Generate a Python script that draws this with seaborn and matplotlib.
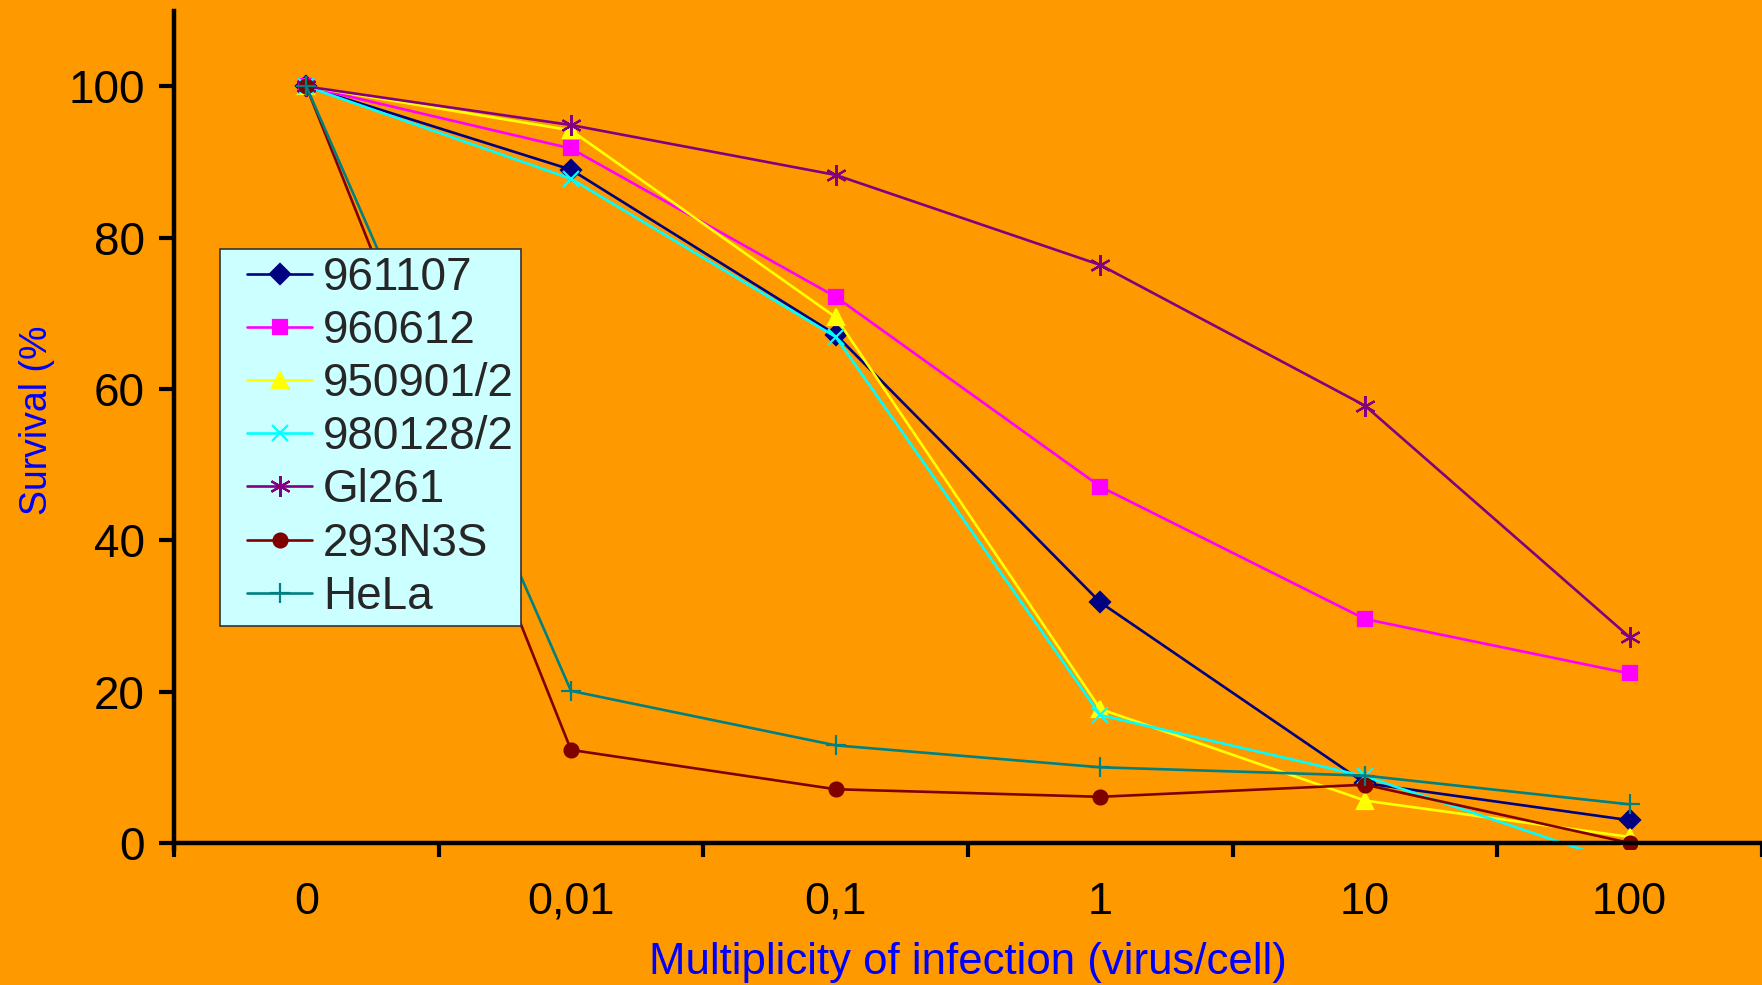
import matplotlib
matplotlib.use("Agg")
import matplotlib.pyplot as plt
from matplotlib.legend_handler import HandlerLine2D
import seaborn as sns
import pandas as pd

# Multiplicity of infection categories (virus/cell)
moi_labels = ["0", "0,01", "0,1", "1", "10", "100"]

# Survival (%) per cell line
s_961107 = [100, 89.0, 67.2, 31.8, 7.9, 3.0]
s_960612 = [100, 91.8, 72.2, 47.1, 29.6, 22.4]
s_950901_2 = [100, 94.2, 69.5, 17.7, 5.6, 0.8]
s_980128_2 = [100, 87.8, 66.9, 16.9, 8.8, -3.0]
s_gl261 = [100, 94.9, 88.3, 76.4, 57.8, 27.2]
s_293n3s = [100, 12.3, 7.1, 6.1, 7.7, 0.0]
s_hela = [100, 20.1, 12.9, 10.0, 8.9, 5.1]

series_names = ["961107", "960612", "950901/2", "980128/2", "Gl261", "293N3S", "HeLa"]
series_values = [s_961107, s_960612, s_950901_2, s_980128_2, s_gl261, s_293n3s, s_hela]

colors = ["#000080", "#FF00FF", "#FFFF00", "#00FFFF", "#800080", "#800000", "#008080"]
markers = ["D", "s", "^", "x", (6, 2, 0), "o", "+"]
marker_sizes = [10, 10, 12, 12, 15, 10, 15]

rows = []
for name, vals in zip(series_names, series_values):
    for i, v in enumerate(vals):
        rows.append({"line": name, "pos": i, "survival": v})
df = pd.DataFrame(rows)

sns.set_theme(style="white")
plt.rcParams["font.family"] = ["Liberation Sans", "DejaVu Sans"]

bg = "#FF9900"
fig = plt.figure(figsize=(17.62, 9.85), dpi=100, facecolor=bg)
ax = fig.add_axes([174 / 1762, 1 - 849 / 985, 1 - 174 / 1762, (849 - 10.8) / 985])
ax.set_facecolor(bg)

sns.lineplot(
    data=df, x="pos", y="survival", hue="line", hue_order=series_names,
    palette=dict(zip(series_names, colors)),
    linewidth=1.9, legend=False, errorbar=None, ax=ax,
)

# Per-series markers (filled and line-art mixed), coloured like their line
lines = ax.get_lines()[:len(series_names)]
for ln, mk, ms in zip(lines, markers, marker_sizes):
    c = ln.get_color()
    ln.set_marker(mk)
    ln.set_markeredgecolor(c)
    ln.set_markerfacecolor(c)
    ln.set_markersize(ms)
    ln.set_markeredgewidth(1.6)

ax.set_xlim(-0.5, 5.5)
ax.set_ylim(-0.8, 110)

for side in ["top", "right"]:
    ax.spines[side].set_visible(False)
ax.spines["bottom"].set_position(("data", 0))
for side in ["left", "bottom"]:
    ax.spines[side].set_color("black")
    ax.spines[side].set_linewidth(3.2)

ax.set_yticks([0, 20, 40, 60, 80, 100])
ax.tick_params(axis="y", which="major", direction="out", length=11, width=3,
               color="black", labelsize=33, labelcolor="black", pad=10, left=True)

ax.set_xticks(range(len(moi_labels)))
ax.set_xticklabels(moi_labels)
ax.set_xticks([i - 0.5 for i in range(len(moi_labels) + 1)], minor=True)
ax.tick_params(axis="x", which="major", length=0, labelsize=32.5, labelcolor="black", pad=28)
ax.tick_params(axis="x", which="minor", direction="out", length=10, width=3,
               color="black", bottom=True)

ax.set_xlabel("Multiplicity of infection (virus/cell)", fontsize=31.5, color="#0000FF",
              va="center")
ax.xaxis.set_label_coords(0.5, -0.135)
ax.set_ylabel("Survival (%", fontsize=27, color="#0000FF")
ax.yaxis.set_label_coords(-0.075, 0.511)
ax.grid(False)

leg = ax.legend(
    lines, series_names, loc="upper left", bbox_to_anchor=(0.029, 0.716),
    borderaxespad=0, fontsize=33, frameon=True, fancybox=False,
    handlelength=1.86, handletextpad=0.24, labelspacing=0.2,
    borderpad=0.15, numpoints=1,
    handler_map={ln: HandlerLine2D(xpad=0.44) for ln in lines},
)
frame = leg.get_frame()
frame.set_facecolor("#CCFFFF")
frame.set_edgecolor("#333333")
frame.set_linewidth(1.2)
frame.set_alpha(1)

fig.savefig("out.png", dpi=100, facecolor=bg)
